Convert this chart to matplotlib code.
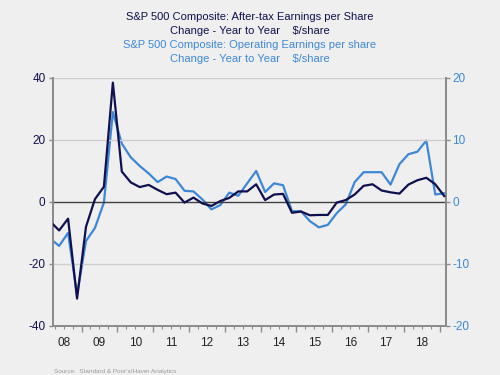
import numpy as np
import matplotlib
matplotlib.use("Agg")
import matplotlib.pyplot as plt

plt.rcParams['font.family'] = ['Liberation Sans', 'DejaVu Sans']
plt.rcParams['axes.unicode_minus'] = False

# quarterly data, 2008Q1 .. 2019Q1 (change year to year, $/share)
quarters = np.arange(45)
after_tax = [-6.3, -9.2, -5.4, -31.2, -8.0, 0.9, 4.9, 38.5,
             9.8, 6.3, 4.8, 5.5, 3.9, 2.5, 3.0, -0.2,
             1.4, -0.5, -1.3, 0.3, 1.3, 3.4, 3.4, 5.7,
             0.6, 2.4, 2.6, -3.5, -3.1, -4.3, -4.2, -4.2,
             -0.2, 0.6, 2.4, 5.2, 5.7, 3.7, 3.1, 2.7,
             5.6, 7.0, 7.8, 5.7, 1.9]
operating = [-5.9, -7.1, -5.0, -15.0, -6.3, -4.2, -0.1, 14.5,
             9.4, 7.2, 5.8, 4.6, 3.2, 4.1, 3.7, 1.8,
             1.7, 0.4, -1.2, -0.5, 1.5, 1.0, 3.0, 5.0,
             1.6, 3.0, 2.7, -1.5, -1.5, -3.1, -4.1, -3.7,
             -1.8, -0.4, 3.2, 4.8, 4.8, 4.8, 2.8, 6.1,
             7.7, 8.1, 9.9, 1.2, 1.4]
year_labels = ['08', '09', '10', '11', '12', '13', '14', '15', '16', '17', '18']

dark = '#10104e'
light = '#3d88d6'
bg = '#efefef'

x = 2008 + quarters * 0.25 + 0.125

fig = plt.figure(figsize=(5, 3.75), dpi=100, facecolor=bg)
ax = fig.add_axes([0.105, 0.131, 0.786, 0.661])
ax2 = ax.twinx()

# grid and zero line on the left axis
for v in (-20, 20, 40):
    ax.axhline(v, color='#cfcfcf', lw=1.0, zorder=0)
ax.axhline(0, color='#404040', lw=1.0, zorder=1)

ax.plot(x, after_tax, color=dark, lw=1.6, zorder=3)
ax2.plot(x, operating, color=light, lw=1.6, zorder=2)

# draw left axes (dark line) above the twin
ax.set_zorder(ax2.get_zorder() + 1)
ax.patch.set_visible(False)
ax2.patch.set_facecolor('white')

ax.set_xlim(2008.19, 2019.16)
ax.set_ylim(-40, 40)
ax2.set_ylim(-20, 20)
ax.set_yticks([-40, -20, 0, 20, 40])
ax2.set_yticks([-20, -10, 0, 10, 20])

for a in (ax, ax2):
    a.spines['top'].set_visible(False)
    for s in ('left', 'right', 'bottom'):
        a.spines[s].set_color('#8c8c8c')
        a.spines[s].set_linewidth(1.3)

ax.tick_params(axis='y', colors='#8c8c8c', labelcolor=dark, labelsize=8.5,
               length=3, width=1, pad=2)
ax2.tick_params(axis='y', colors='#8c8c8c', labelcolor=light, labelsize=8.5,
                length=3, width=1, pad=2)

# x axis: year boundaries + quarter minor ticks, labels centred on the year
ax.set_xticks(np.arange(2009, 2020))
ax.set_xticklabels([])
ax.set_xticks(np.arange(2008.25, 2019.2, 0.25), minor=True)
ax.tick_params(axis='x', which='major', length=4, width=1, colors='#8c8c8c')
ax.tick_params(axis='x', which='minor', length=2, width=0.8, colors='#8c8c8c')

sec = ax.secondary_xaxis('bottom')
sec.set_xticks(np.arange(2008.5, 2019, 1.0))
sec.set_xticklabels(year_labels)
sec.tick_params(axis='x', length=0, labelsize=8.5, labelcolor='#222222', pad=8)
sec.spines['bottom'].set_visible(False)

# titles
fig.text(0.5, 0.955, 'S&P 500 Composite: After-tax Earnings per Share',
         ha='center', va='center', color=dark, fontsize=8)
fig.text(0.5, 0.918, 'Change - Year to Year    $/share',
         ha='center', va='center', color=dark, fontsize=8)
fig.text(0.5, 0.88, 'S&P 500 Composite: Operating Earnings per share',
         ha='center', va='center', color=light, fontsize=8)
fig.text(0.5, 0.843, 'Change - Year to Year    $/share',
         ha='center', va='center', color=light, fontsize=8)

fig.text(0.108, 0.003, 'Source:  Standard & Poor\'s/Haver Analytics',
         ha='left', va='bottom', color='#9a9a9a', fontsize=4.6)

fig.savefig('out.png', dpi=100, facecolor=bg)
